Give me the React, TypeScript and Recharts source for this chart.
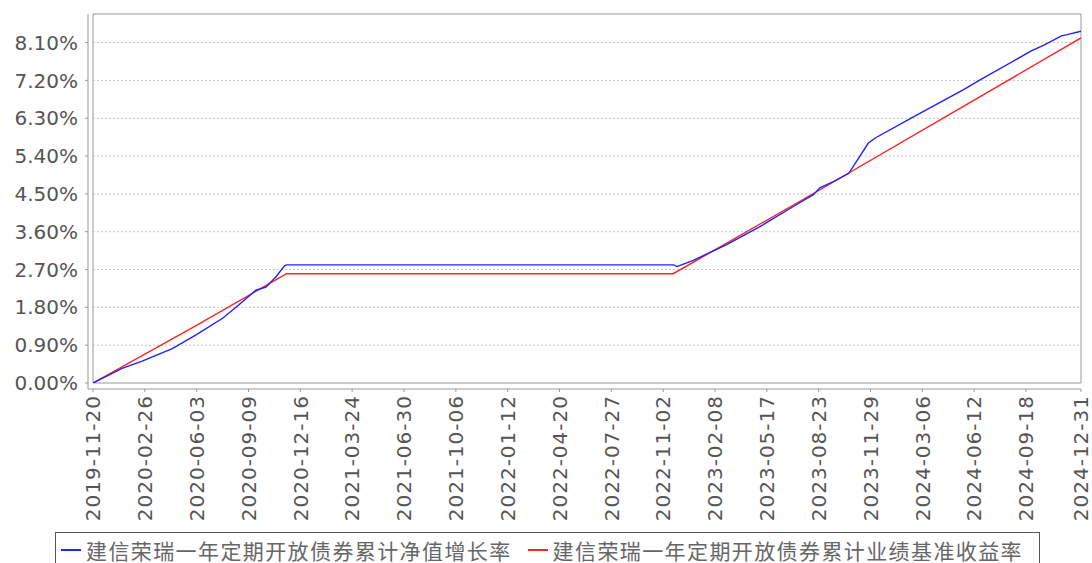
import React from 'react';
import { LineChart, Line, XAxis, YAxis, ReferenceLine, ReferenceArea, Legend } from 'recharts';

// 累计净值增长率 (blue)
const navDates = [
  '2019-11-20', '2020-01-14', '2020-02-21', '2020-04-18', '2020-06-01', '2020-07-22',
  '2020-08-22', '2020-09-23', '2020-10-12', '2020-10-31', '2020-11-16', '2020-11-20',
  '2022-11-22', '2022-11-28', '2022-12-04', '2022-12-29', '2023-03-02', '2023-05-04',
  '2023-07-06', '2023-08-13', '2023-08-26', '2023-09-20', '2023-10-19', '2023-11-25',
  '2023-12-08', '2024-02-19', '2024-05-23', '2024-06-24', '2024-09-28', '2024-10-22',
  '2024-11-24', '2024-12-05', '2024-12-31',
];
const navValues = [
  0.0, 0.35, 0.52, 0.82, 1.14, 1.54,
  1.86, 2.21, 2.28, 2.53, 2.79, 2.81,
  2.81, 2.77, 2.8, 2.92, 3.29, 3.72,
  4.2, 4.48, 4.65, 4.79, 4.99, 5.71,
  5.83, 6.34, 6.98, 7.22, 7.9, 8.04,
  8.26, 8.29, 8.37,
];

// 业绩基准收益率 (red)
const benchDates = [
  '2019-11-20', '2020-06-01', '2020-11-20', '2022-11-21', '2023-08-23', '2024-06-12', '2024-12-31',
];
const benchValues = [0.0, 1.36, 2.6, 2.6, 4.58, 6.73, 8.21];

const xTickLabels = [
  '2019-11-20', '2020-02-26', '2020-06-03', '2020-09-09', '2020-12-16', '2021-03-24',
  '2021-06-30', '2021-10-06', '2022-01-12', '2022-04-20', '2022-07-27', '2022-11-02',
  '2023-02-08', '2023-05-17', '2023-08-23', '2023-11-29', '2024-03-06', '2024-06-12',
  '2024-09-18', '2024-12-31',
];
const yTicks = [0, 0.9, 1.8, 2.7, 3.6, 4.5, 5.4, 6.3, 7.2, 8.1];

const navName = '建信荣瑞一年定期开放债券累计净值增长率';
const benchName = '建信荣瑞一年定期开放债券累计业绩基准收益率';
const navColor = '#2020ff';
const benchColor = '#ff2020';

const toTime = (d: string) => Date.parse(d + 'T00:00:00Z');
const navData = navDates.map((d, i) => ({ t: toTime(d), v: navValues[i] }));
const benchData = benchDates.map((d, i) => ({ t: toTime(d), v: benchValues[i] }));
const xTicks = xTickLabels.map(toTime);
const xMin = xTicks[0];
const xMax = xTicks[xTicks.length - 1];
const yMax = 8.78;

const fmtDate = (t: number) => new Date(t).toISOString().slice(0, 10);

const DateTick = (props: any) => {
  const { x, y, payload } = props;
  return (
    <text
      x={x}
      y={y}
      dy="0.36em"
      transform={`rotate(-90 ${x} ${y})`}
      textAnchor="end"
      fill="#555"
      fontSize={20}
      letterSpacing={1}
      fontFamily="DejaVu Sans"
    >
      {fmtDate(payload.value)}
    </text>
  );
};

const legendItems = [
  { name: navName, color: navColor },
  { name: benchName, color: benchColor },
];

const LegendBox = () => (
  <div
    style={{
      border: '1px solid #555',
      height: 40,
      boxSizing: 'border-box',
      display: 'flex',
      alignItems: 'flex-start',
      paddingLeft: 5,
      fontFamily: '"Noto Sans CJK SC"',
      fontSize: 21,
      letterSpacing: 1.4,
      color: '#666',
      lineHeight: '34px',
      whiteSpace: 'nowrap',
      background: '#fff',
    }}
  >
    {legendItems.map((p, i) => (
      <div key={i} style={{ display: 'flex', alignItems: 'center', marginRight: 16 }}>
        <span style={{ display: 'inline-block', width: 20, height: 2, background: p.color, marginRight: 5 }} />
        <span>{p.name}</span>
      </div>
    ))}
  </div>
);

export default function App() {
  return (
    <div style={{ position: 'absolute', left: 0, top: 0, background: '#fff' }}>
      <LineChart width={1092} height={563} margin={{ top: 14, right: 11, bottom: 34, left: 0 }}>
        <XAxis
          type="number"
          dataKey="t"
          domain={[xMin, xMax]}
          ticks={xTicks}
          padding={{ left: 5, right: 0 }}
          allowDataOverflow
          height={140}
          tickSize={3}
          tickMargin={3}
          tick={<DateTick />}
          axisLine={{ stroke: '#999' }}
          tickLine={{ stroke: '#999' }}
          interval={0}
        />
        <YAxis
          type="number"
          domain={[0, yMax]}
          ticks={yTicks}
          padding={{ top: 0, bottom: 6 }}
          width={88}
          tickSize={3}
          tickMargin={7}
          tickFormatter={(v: number) => v.toFixed(2) + '%'}
          tick={{ fill: '#555', fontSize: 20, fontFamily: 'DejaVu Sans' }}
          axisLine={{ stroke: '#999' }}
          tickLine={{ stroke: '#999' }}
          allowDataOverflow
        />
        {yTicks.slice(1).map((v) => (
          <ReferenceLine
            key={v}
            segment={[{ x: xMin, y: v }, { x: xMax, y: v }]}
            stroke="#c4c4c4"
            strokeDasharray="2 2"
          />
        ))}
        <ReferenceArea x1={xMin} x2={xMax} y1={0} y2={yMax} fill="none" stroke="#999" strokeWidth={1} />
        <Line
          data={benchData}
          dataKey="v"
          name={benchName}
          type="linear"
          stroke={benchColor}
          strokeWidth={1.4}
          dot={false}
          isAnimationActive={false}
        />
        <Line
          data={navData}
          dataKey="v"
          name={navName}
          type="linear"
          stroke={navColor}
          strokeWidth={1.4}
          dot={false}
          isAnimationActive={false}
        />
        <Legend
          layout="horizontal"
          verticalAlign="middle"
          align="center"
          content={<LegendBox />}
          wrapperStyle={{ left: 55, top: 532, width: 985, height: 40 }}
        />
      </LineChart>
    </div>
  );
}
